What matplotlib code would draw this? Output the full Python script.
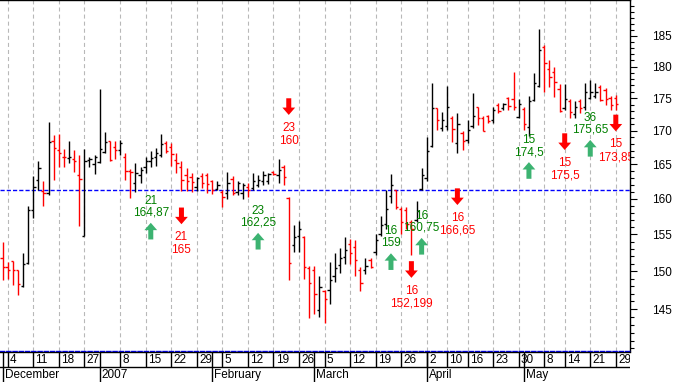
import numpy as np
import matplotlib
matplotlib.use('Agg')
import matplotlib.pyplot as plt
from matplotlib.ticker import NullFormatter

plt.rcParams['font.family'] = ['Liberation Sans', 'DejaVu Sans']
plt.rcParams['lines.scale_dashes'] = False

# daily bars, first bar is Fri 1 Dec 2006
opens = [151.7, 150.5, 151.3, 150.1, 148.0, 151.1, 158.4, 162.7, 161.1, 160.8,
         168.4, 167.1, 166.1, 165.9, 165.8, 163.4, 154.8, 165.6, 165.0, 165.3,
         166.8, 168.4, 167.6, 167.1, 166.1, 164.0, 162.2, 163.4, 164.6, 165.4,
         166.1, 166.4, 168.1, 167.6, 165.6, 164.6, 163.4, 163.1, 161.7, 163.3,
         163.4, 162.5, 161.4, 161.0, 160.8, 162.8, 161.0, 160.8, 161.7, 161.5,
         162.0, 162.5, 162.5, 163.8, 163.4, 164.6, 160.1, 153.5, 154.7, 154.6,
         150.4, 150.1, 144.9, 147.3, 147.5, 149.3, 150.8, 151.9, 153.7, 153.3,
         150.1, 150.1, 151.5, 152.6, 155.1, 156.5, 160.4, 161.3, 158.6, 158.4,
         156.7, 157.0, 161.4, 163.0, 167.7, 173.5, 170.4, 170.7, 171.9, 168.2,
         169.6, 168.6, 170.7, 173.6, 171.9, 172.2, 171.6, 173.9, 173.5, 175.0,
         174.8, 172.1, 173.3, 170.5, 174.7, 176.9, 183.2, 179.6, 179.2, 176.5,
         173.4, 174.5, 172.6, 174.5, 173.6, 175.0, 175.3, 176.8, 176.3, 175.0,
         175.0]
highs = [153.9, 151.2, 151.3, 150.2, 152.5, 158.9, 163.3, 165.4, 162.6, 171.3,
         169.4, 169.5, 167.3, 168.5, 167.1, 166.4, 167.2, 166.1, 166.4, 176.5,
         169.8, 168.5, 168.4, 168.6, 166.6, 164.3, 165.1, 164.6, 166.1, 166.9,
         167.4, 169.5, 168.4, 168.1, 166.6, 165.4, 164.4, 163.7, 163.1, 163.7,
         163.7, 162.7, 162.5, 161.3, 163.9, 163.3, 162.5, 162.2, 162.2, 163.7,
         163.4, 164.0, 163.7, 164.0, 165.7, 164.9, 160.2, 156.3, 156.9, 154.8,
         150.7, 150.7, 149.4, 147.5, 151.2, 152.5, 153.1, 154.6, 154.3, 154.2,
         150.6, 151.7, 151.8, 155.1, 157.5, 161.3, 163.6, 161.3, 158.8, 158.8,
         157.0, 159.6, 164.4, 169.0, 177.4, 173.5, 172.8, 176.9, 172.2, 172.7,
         169.9, 171.6, 175.8, 173.7, 172.2, 172.4, 173.6, 174.2, 174.2, 175.2,
         179.2, 174.9, 173.6, 175.3, 179.0, 186.1, 183.5, 181.0, 180.0, 177.2,
         177.3, 174.9, 174.6, 174.8, 177.4, 177.9, 177.4, 177.1, 176.6, 175.3,
         175.5]
lows = [148.8, 148.9, 148.1, 146.8, 147.9, 150.9, 157.3, 161.3, 158.9, 160.5,
        162.7, 164.6, 164.6, 165.1, 163.8, 156.2, 154.7, 164.6, 163.6, 165.2,
        166.6, 165.5, 165.7, 166.4, 162.7, 160.1, 160.9, 162.2, 163.7, 164.6,
        164.8, 166.1, 166.6, 164.8, 163.7, 161.1, 161.1, 161.0, 161.1, 161.5,
        160.8, 160.6, 161.2, 158.8, 159.9, 160.5, 160.5, 160.0, 160.2, 161.3,
        161.7, 162.0, 162.1, 163.4, 162.2, 162.0, 148.8, 152.6, 152.6, 149.0,
        143.8, 144.4, 144.0, 143.2, 145.6, 148.6, 149.7, 151.0, 151.0, 149.3,
        147.3, 149.6, 150.4, 152.2, 154.7, 155.8, 159.4, 158.6, 155.1, 155.8,
        152.2, 156.7, 161.3, 162.5, 167.5, 170.1, 169.9, 170.1, 168.3, 166.7,
        167.1, 168.2, 170.4, 170.8, 169.9, 171.2, 171.2, 172.7, 173.2, 173.2,
        173.2, 172.0, 170.1, 169.2, 174.5, 176.7, 175.9, 176.7, 175.2, 172.9,
        173.1, 172.0, 172.0, 172.7, 173.1, 174.8, 175.0, 174.5, 173.9, 173.2,
        173.1]
closes = [150.5, 150.2, 150.2, 148.3, 151.0, 158.4, 161.7, 164.4, 160.8, 168.3,
          167.4, 166.7, 166.0, 166.0, 165.4, 162.8, 165.5, 165.8, 166.0, 167.2,
          168.3, 165.6, 167.1, 168.1, 164.0, 163.8, 163.7, 164.2, 165.4, 165.9,
          166.6, 168.0, 167.0, 166.5, 165.1, 162.7, 162.5, 162.4, 163.0, 162.3,
          162.1, 161.3, 161.9, 160.3, 162.2, 160.8, 162.2, 162.0, 161.3, 162.5,
          162.7, 163.4, 163.6, 163.5, 164.2, 163.1, 151.1, 154.6, 155.7, 150.6,
          148.4, 147.0, 147.9, 146.3, 148.8, 150.4, 151.7, 152.9, 152.5, 151.5,
          148.4, 150.7, 150.6, 154.2, 156.3, 158.6, 162.0, 158.8, 156.7, 156.5,
          155.8, 158.2, 163.4, 166.9, 173.5, 171.6, 171.6, 173.7, 170.3, 171.0,
          168.4, 170.1, 172.3, 171.9, 170.0, 171.5, 173.2, 173.0, 174.1, 173.8,
          173.6, 174.1, 171.0, 174.5, 177.4, 182.7, 180.6, 178.3, 177.6, 173.0,
          174.9, 172.9, 173.7, 173.4, 176.0, 176.0, 176.0, 174.7, 174.9, 173.9,
          174.1]

# first bar of each week and its day label
week_idx = [1, 6, 11, 16, 23, 28, 33, 38, 43, 48, 53, 58, 63, 68, 73, 78,
            83, 87, 91, 96, 101, 106, 110, 115, 120]
week_labels = ['4', '11', '18', '27', '8', '15', '22', '29', '5', '12', '19',
               '26', '5', '12', '19', '26', '2', '10', '16', '23', '30', '8',
               '14', '21', '29']
month_idx = [0, 19, 41, 61, 83, 102]
month_labels = ['December', '2007', 'February', 'March', 'April', 'May']

level = 161.25
yticks = [145, 150, 155, 160, 165, 170, 175, 180, 185]

# signals: bar, direction, arrow tip price, period, price text
sig_idx = [29, 35, 50, 56, 76, 80, 82, 89, 103, 110, 115, 120]
sig_dir = ['up', 'down', 'up', 'down', 'up', 'down', 'up', 'down', 'up',
           'down', 'up', 'down']
sig_tip = [156.6, 156.4, 155.2, 172.4, 152.4, 149.1, 154.5, 159.1, 165.3,
           167.1, 168.6, 169.9]
sig_n = ['21', '21', '23', '23', '16', '16', '16', '16', '15', '15', '36', '15']
sig_text = ['164,87', '165', '162,25', '160', '159', '152,199', '160,75',
            '166,65', '174,5', '175,5', '175,65', '173,85']

W, H = 677, 382
fig = plt.figure(figsize=(W / 100, H / 100), dpi=100)
ax = fig.add_axes([0, 31.5 / H, 629.5 / W, 350.5 / H])
xlim = (-0.507, 122.68)

x = np.arange(len(opens))
o = np.array(opens)
c = np.array(closes)
colors = np.where(c < o, '#ff0000', '#000000')
ax.vlines(x, lows, highs, colors=colors, lw=1.0, zorder=3)
ax.hlines(o, x - 0.45, x, colors=colors, lw=1.0, zorder=3)
ax.hlines(c, x, x + 0.45, colors=colors, lw=1.0, zorder=3)

for i in week_idx:
    ax.axvline(i, color='#b8b8b8', lw=0.8, dashes=(2.9, 2.2), zorder=0)
ax.axhline(level, color='#0000ff', lw=1.0, dashes=(3, 1.5), zorder=2)

ax.set_xlim(xlim)
ax.set_xticks([])
ax.set_yscale('log')
ax.set_ylim(139.75, 191.0)
ax.yaxis.tick_right()
ax.set_yticks(yticks, labels=[str(v) for v in yticks])
ax.set_yticks(np.arange(140, 191), minor=True)
ax.yaxis.set_minor_formatter(NullFormatter())
ax.tick_params(axis='y', which='major', length=5, width=0.8, pad=11.5,
               labelsize=8.5, direction='out')
ax.tick_params(axis='y', which='minor', length=3, width=0.8, direction='out')
ax.spines['left'].set_visible(False)
ax.spines['top'].set_linewidth(1.0)
ax.spines['right'].set_linewidth(1.0)
ax.spines['bottom'].set_color('#0000ff')
ax.spines['bottom'].set_linestyle((0, (3, 1.5)))
ax.spines['bottom'].set_linewidth(1.0)

arrow = 'simple,head_length=5.3,head_width=9.2,tail_width=3.6'
for i, d, tip, n, t in zip(sig_idx, sig_dir, sig_tip, sig_n, sig_text):
    if d == 'up':
        acol, tcol, tail, dy1, dy2 = '#3cb371', '#008000', -12, 15.8, 7.2
    else:
        acol, tcol, tail, dy1, dy2 = '#ff0000', '#ff0000', 12, -9.4, -18.7
    ax.annotate('', xy=(i, tip), xytext=(0, tail), textcoords='offset points',
                arrowprops=dict(arrowstyle=arrow, mutation_scale=1, color=acol,
                                lw=0, shrinkA=0, shrinkB=0))
    for s, dy in ((n, dy1), (t, dy2)):
        a = ax.annotate(s, xy=(i, tip), xytext=(0, dy), textcoords='offset points',
                        ha='center', va='center', color=tcol, fontsize=8.5,
                        annotation_clip=False)
        a.set_clip_path(ax.patch)

# date band under the chart
axb = fig.add_axes([0, 0, 629.5 / W, 29.7 / H])
axb.set_xlim(xlim)
axb.set_ylim(0, 1)
axb.set_xticks([])
axb.set_yticks([])
for side in ('left', 'right', 'bottom'):
    axb.spines[side].set_visible(False)
axb.spines['top'].set_linewidth(1.0)
axb.axhline(0.51, color='k', lw=1.0)
axb.vlines(week_idx, 0.51, 1, color='k', lw=1.0)
axb.vlines(month_idx, 0, 1, color='k', lw=1.0)
for i, s in zip(week_idx, week_labels):
    axb.annotate(s, xy=(i, 0.75), xytext=(1.6, 0), textcoords='offset points',
                 ha='left', va='center', fontsize=8.5, clip_on=True)
for i, s in zip(month_idx, month_labels):
    axb.annotate(s, xy=(i, 0.24), xytext=(1.4, 0), textcoords='offset points',
                 ha='left', va='center', fontsize=8.5, clip_on=True)

fig.savefig('out.png', dpi=100)
